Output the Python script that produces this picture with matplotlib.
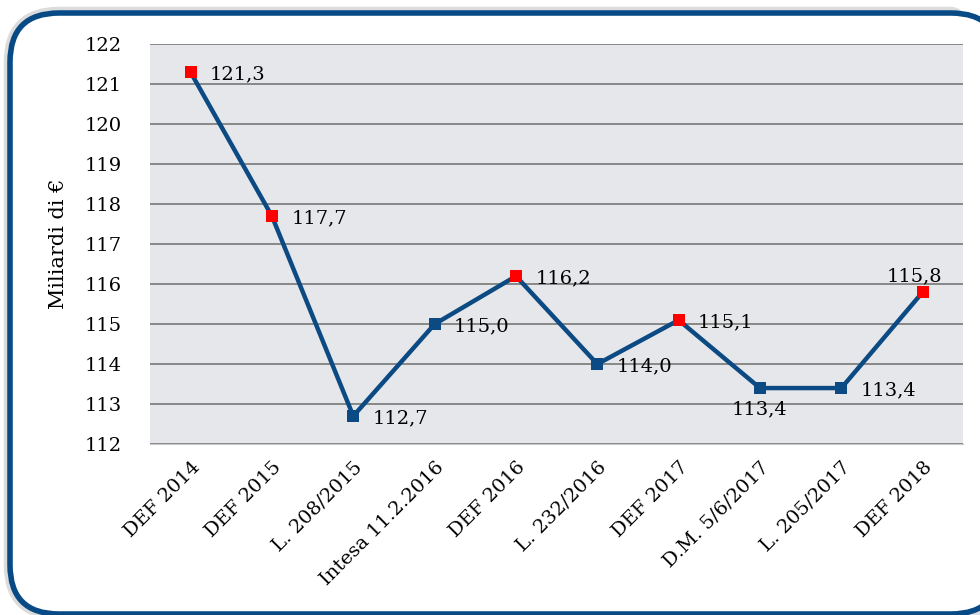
import matplotlib.pyplot as plt
from matplotlib.patches import FancyBboxPatch

# ── Data ─────────────────────────────────────────────
categories = ["DEF 2014", "DEF 2015", "L. 208/2015", "Intesa 11.2.2016", "DEF 2016",
              "L. 232/2016", "DEF 2017", "D.M. 5/6/2017", "L. 205/2017", "DEF 2018"]
values = [121.3, 117.7, 112.7, 115.0, 116.2, 114.0, 115.1, 113.4, 113.4, 115.8]
red_points = [True, True, False, False, True, False, True, False, False, True]
# label placement: r = right, b = below, a = above
label_pos = ["r", "r", "r", "r", "r", "r", "r", "b", "r", "a"]

plt.rcParams["font.family"] = ["DejaVu Serif"]

BLUE = "#0b4a82"
RED = "#ff0000"
FS = 14

fig = plt.figure(figsize=(9.8, 6.15), dpi=100)
fig.patch.set_facecolor("white")

# rounded frame with soft shadow
box = (10 / 980, 1 / 615, 990 / 980, 601 / 615)
shadow = FancyBboxPatch(box[:2], box[2], box[3], boxstyle="round,pad=0,rounding_size=0.05",
                        transform=fig.transFigure, facecolor="none", edgecolor="#dcdcdc",
                        linewidth=9, mutation_aspect=980 / 615, zorder=0)
frame = FancyBboxPatch(box[:2], box[2], box[3], boxstyle="round,pad=0,rounding_size=0.05",
                       transform=fig.transFigure, facecolor="white", edgecolor="#084a85",
                       linewidth=4, mutation_aspect=980 / 615, zorder=1)
fig.patches.extend([shadow, frame])

ax = fig.add_axes([0.153, 0.278, 0.830, 0.650])
ax.set_facecolor("#e6e7eb")
ax.set_zorder(2)

x = list(range(len(categories)))
ax.plot(x, values, color=BLUE, linewidth=3.2, zorder=3)
for xi, v, red in zip(x, values, red_points):
    ax.plot(xi, v, marker="s", markersize=8, color=RED if red else BLUE,
            markeredgewidth=0, zorder=4)

for xi, v, pos in zip(x, values, label_pos):
    txt = f"{v:.1f}".replace(".", ",")
    if pos == "r":
        ax.annotate(txt, (xi, v), xytext=(14, -1.5), textcoords="offset points",
                    ha="left", va="center", fontsize=FS)
    elif pos == "b":
        ax.annotate(txt, (xi, v), xytext=(0, -9), textcoords="offset points",
                    ha="center", va="top", fontsize=FS)
    else:
        ax.annotate(txt, (xi, v), xytext=(-6, 5), textcoords="offset points",
                    ha="center", va="bottom", fontsize=FS)

ax.set_xlim(-0.5, len(categories) - 0.5)
ax.set_ylim(112, 122)
ax.set_yticks(range(112, 123))
ax.yaxis.grid(True, color="#808080", linewidth=1.3)
ax.set_axisbelow(True)
for s in ["top", "right", "left"]:
    ax.spines[s].set_visible(False)
ax.spines["bottom"].set_color("#c8c8c8")
ax.tick_params(axis="both", length=0, labelsize=FS)
ax.tick_params(axis="y", pad=20)
ax.set_xticks(x)
ax.set_xticklabels(categories, rotation=45, ha="right", rotation_mode="anchor")
ax.tick_params(axis="x", pad=10)
ax.set_ylabel("Miliardi di €", fontsize=FS + 1, labelpad=12)

fig.savefig("out.png", dpi=100)
